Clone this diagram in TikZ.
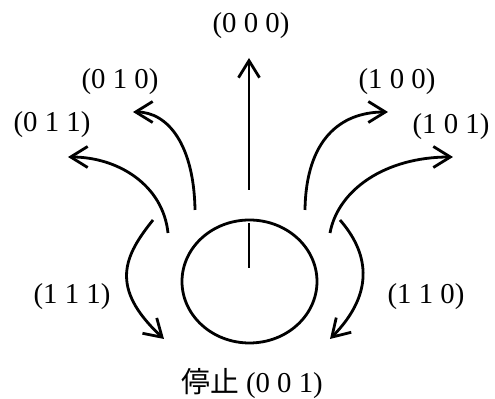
\documentclass[tikz,border=0pt]{standalone}
\usepackage{fontspec}
\setmainfont{Liberation Serif}
\newfontfamily\cjk{Noto Sans CJK JP}
\usetikzlibrary{arrows.meta,shapes.geometric}
\begin{document}
\begin{tikzpicture}[x=0.5pt,y=-0.5pt,
  arr/.style={line width=1.4pt,-{Straight Barb[length=8.5pt,width=10.5pt]}},
  lbl/.style={inner sep=0pt,font=\fontsize{14.4}{16}\selectfont}]
\useasboundingbox (0,0) rectangle (495,399);
% wheel
\node (wheel) [ellipse, draw, line width=1.4pt, minimum width=67.5pt, minimum height=61.5pt, inner sep=0pt] at (249.5,281.5) {};
\coordinate (hubTop) at (249,223);
\coordinate (hubBot) at (249,268);
\draw[line width=1pt] (hubTop) -- (hubBot);
% endpoints
\coordinate (sUp) at (249,190);   \coordinate (eUp) at (249,58);
\coordinate (sA) at (195,210);    \coordinate (eA) at (133,112);
\coordinate (sB) at (168,233);    \coordinate (eB) at (68,157);
\coordinate (sC) at (305,210);    \coordinate (eC) at (388,112);
\coordinate (sD) at (330,233);    \coordinate (eD) at (453,157);
\coordinate (sE) at (153,220);    \coordinate (eE) at (164,339);
\coordinate (sF) at (340,220);    \coordinate (eF) at (330,339);
% arrows
\draw[arr] (sUp) -- (eUp);
\draw[arr] (sA) .. controls (194,145) and (168,112) .. (eA);
\draw[arr] (sB) .. controls (163,185) and (118,157) .. (eB);
\draw[arr] (sC) .. controls (306,140) and (340,112) .. (eC);
\draw[arr] (sD) .. controls (338,190) and (385,157) .. (eD);
\draw[arr] (sE) .. controls (125,255) and (108,287) .. (eE);
\draw[arr] (sF) .. controls (367,251) and (377,291) .. (eF);
% labels
\node[lbl] (l000) at (251,26) {(0 0 0)};
\node[lbl] (l010) at (120,82) {(0 1 0)};
\node[lbl] (l011) at (52,125) {(0 1 1)};
\node[lbl] (l100) at (397,82) {(1 0 0)};
\node[lbl] (l101) at (451,127) {(1 0 1)};
\node[lbl] (l111) at (72,297) {(1 1 1)};
\node[lbl] (l110) at (426,297) {(1 1 0)};
\node[lbl] (l001) at (252,384) {{\cjk 停止} (0 0 1)};
\end{tikzpicture}
\end{document}
